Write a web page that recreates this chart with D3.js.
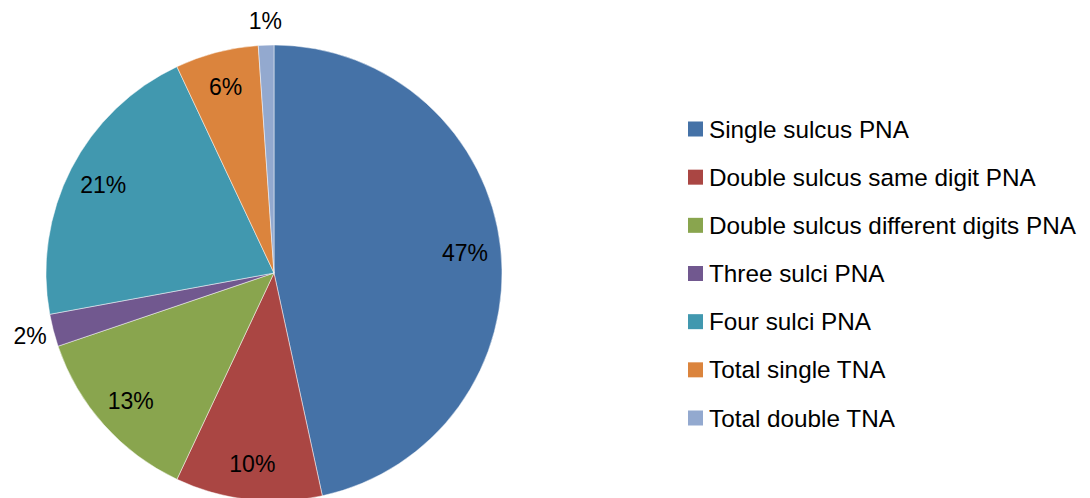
<!DOCTYPE html>
<html>
<head>
<meta charset="utf-8">
<script src="https://cdn.jsdelivr.net/npm/d3@7"></script>
<style>
  html, body { margin: 0; padding: 0; background: #fff; }
  text { font-family: "Liberation Sans", Arial, sans-serif; fill: #000; }
</style>
</head>
<body>
<svg id="chart" width="1090" height="498"></svg>
<script>
const categories = [
  "Single sulcus PNA",
  "Double sulcus same digit PNA",
  "Double sulcus different digits PNA",
  "Three sulci PNA",
  "Four sulci PNA",
  "Total single TNA",
  "Total double TNA"
];
const values = [46.6, 10.4, 12.8, 2.3, 20.9, 5.9, 1.1];
const labels = ["47%", "10%", "13%", "2%", "21%", "6%", "1%"];
const colors = ["#4572A7", "#AA4643", "#89A54E", "#71588F", "#4198AF", "#DB843D", "#93A9CF"];
const outsideLabel = [false, false, false, true, false, false, true];

const svg = d3.select("#chart");
const cx = 274, cy = 273, R = 228;

const data = categories.map((c, i) => ({ name: c, value: values[i], label: labels[i], color: colors[i], outside: outsideLabel[i] }));

const pie = d3.pie().value(d => d.value).sort(null);
const arc = d3.arc().innerRadius(0).outerRadius(R);
const labelArcIn = d3.arc().innerRadius(192).outerRadius(192);
const labelArcOut = d3.arc().innerRadius(252).outerRadius(252);

const g = svg.append("g").attr("transform", `translate(${cx},${cy})`);
const arcs = pie(data);

g.selectAll("path.slice")
  .data(arcs)
  .enter().append("path")
  .attr("class", "slice")
  .attr("d", arc)
  .attr("fill", d => d.data.color)
  .attr("stroke", "rgba(255,255,255,0.6)")
  .attr("stroke-width", 0.8);

g.selectAll("text.lbl")
  .data(arcs)
  .enter().append("text")
  .attr("class", "lbl")
  .attr("transform", d => `translate(${(d.data.outside ? labelArcOut : labelArcIn).centroid(d)})`)
  .attr("text-anchor", "middle")
  .attr("dominant-baseline", "central")
  .style("font-size", "23px")
  .text(d => d.data.label);

const legend = svg.append("g").attr("transform", "translate(688,0)");
const ly = d3.scalePoint().domain(categories).range([129, 418]);
const items = legend.selectAll("g.item")
  .data(data)
  .enter().append("g")
  .attr("class", "item")
  .attr("transform", d => `translate(0,${ly(d.name)})`);
items.append("rect")
  .attr("x", 0).attr("y", -7.5)
  .attr("width", 15).attr("height", 15)
  .attr("fill", d => d.color);
items.append("text")
  .attr("x", 21).attr("y", 0)
  .attr("dominant-baseline", "central")
  .style("font-size", "24.3px")
  .text(d => d.name);
</script>
</body>
</html>
